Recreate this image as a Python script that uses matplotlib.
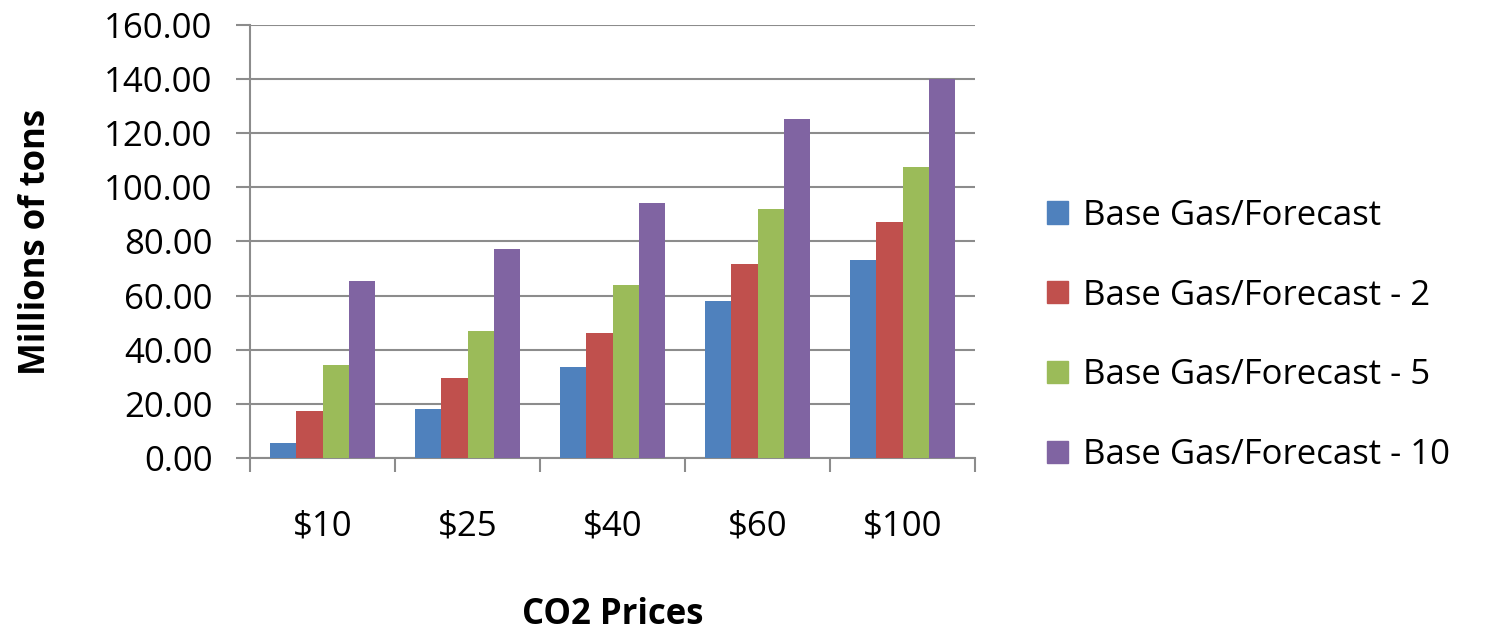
import numpy as np
import matplotlib.pyplot as plt
from matplotlib.patches import Patch

# chart data
prices = ['$10', '$25', '$40', '$60', '$100']
series_names = ['Base Gas/Forecast', 'Base Gas/Forecast - 2',
                'Base Gas/Forecast - 5', 'Base Gas/Forecast - 10']
base = [5.5, 18.0, 33.6, 57.9, 73.3]
base_2 = [17.3, 29.7, 46.1, 71.8, 87.3]
base_5 = [34.4, 46.9, 64.1, 92.0, 107.5]
base_10 = [65.5, 77.2, 94.1, 125.4, 140.0]
colors = ['#4f81bd', '#c0504d', '#9bbb59', '#8064a2']

plt.rcParams['font.family'] = ['Open Sans', 'DejaVu Sans']

fig = plt.figure(figsize=(15, 6.33), dpi=100)
ax = fig.add_axes([0.1667, 0.2765, 0.4833, 0.684])

x = np.arange(len(prices))
w = 0.18
for i, (vals, col) in enumerate(zip([base, base_2, base_5, base_10], colors)):
    ax.bar(x + (i - 1.5) * w, vals, w, color=col, zorder=3)

ax.set_xlim(-0.5, 4.5)
ax.set_ylim(0, 160)
ax.set_yticks(np.arange(0, 161, 20))
ax.set_yticklabels(['%.2f' % v for v in np.arange(0, 161, 20)])
ax.yaxis.grid(True, color='#8c8c8c', linewidth=1.5, zorder=0)

ax.set_xticks(x)
ax.set_xticklabels(prices)
ax.set_xticks(np.arange(-0.5, 5, 1), minor=True)
ax.tick_params(axis='x', which='major', length=0, pad=37, labelsize=25)
ax.tick_params(axis='x', which='minor', length=10, width=1.5, color='#8c8c8c')
ax.tick_params(axis='y', length=10, width=1.5, color='#8c8c8c', labelsize=25, pad=17)

for s in ['top', 'right']:
    ax.spines[s].set_visible(False)
for s in ['left', 'bottom']:
    ax.spines[s].set_color('#8c8c8c')
    ax.spines[s].set_linewidth(1.5)

ax.set_ylabel('Millions of tons', fontsize=25, fontweight='bold')
ax.yaxis.set_label_coords(-0.27, 0.5)
ax.set_xlabel('CO2 Prices', fontsize=25, fontweight='bold')
ax.xaxis.set_label_coords(0.5, -0.32)

handles = [Patch(color=c) for c in colors]
fig.legend(handles, series_names, loc='center left', bbox_to_anchor=(0.677, 0.47),
           frameon=False, fontsize=25, handlelength=0.6, handleheight=0.6,
           handletextpad=0.45, labelspacing=1.32)

fig.savefig('out.png', dpi=100)
